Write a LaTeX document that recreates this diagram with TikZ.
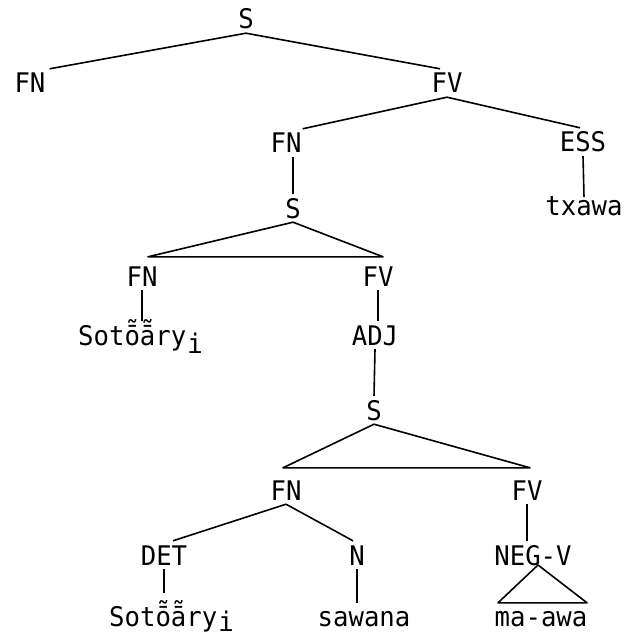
\documentclass[tikz,border=0pt]{standalone}
\usepackage{fontspec}
\newfontfamily\tw[FakeStretch=0.95]{DejaVu Sans Mono}
% vowel with a macron and a tilde stacked above it
\newcommand{\nasbar}[1]{\ooalign{#1\cr\hidewidth\raisebox{5pt}{˜}\hidewidth\cr}}
\newcommand{\sotoary}[1]{Sot\nasbar{ō}\nasbar{ā}ry\kern1pt\raisebox{#1}{i}}
\begin{document}
\begin{tikzpicture}[x=1pt,y=-1pt,
  lbl/.style={anchor=base,inner xsep=1pt,inner ysep=4pt,text height=20pt,text depth=0pt,
    font=\tw\fontsize{27}{29}\selectfont},
  word/.style={lbl,text height=14pt},
  edge/.style={line width=1.6pt,line join=round}]
\useasboundingbox (0,0) rectangle (629,639);

% labels (positions are baselines)
\node[lbl] (S0) at (246,29) {S};
\node[lbl] (FNa) at (30,93) {FN};
\node[lbl] (FVa) at (447,93) {FV};
\node[lbl] (FNb) at (286,153) {FN};
\node[lbl] (ESS) at (583,152) {ESS};
\node[lbl] (Sb) at (293,218) {S};
\node[word] (txawa) at (584,215) {txawa};
\node[lbl] (FNc) at (142,286) {FN};
\node[lbl] (FVc) at (378,286) {FV};
\node[lbl,anchor=base west] (Sot1) at (77,345) {\sotoary{-8pt}};
\node[lbl] (ADJ) at (375,345) {ADJ};
\node[lbl] (Sc) at (374,420) {S};
\node[lbl] (FNd) at (286,500) {FN};
\node[lbl] (FVd) at (527,500) {FV};
\node[lbl] (DET) at (164,565) {DET};
\node[lbl] (N) at (357,565) {N};
\node[lbl] (NEGV) at (533,565) {NEG-V};
\node[lbl,anchor=base west] (Sot2) at (108,626) {\sotoary{-5pt}};
\node[word] (sawana) at (364,626) {sawana};
\node[word] (maawa) at (541,626) {ma-awa};

% helper points
\coordinate (tbL) at ([xshift=6pt,yshift=5pt]FNc.north);
\coordinate (tbR) at ([xshift=5pt,yshift=5pt]FVc.north);
\coordinate (tcL) at ([xshift=-3pt,yshift=8pt]FNd.north);
\coordinate (tcR) at ([xshift=3pt,yshift=8pt]FVd.north);
\coordinate (tnA) at ([xshift=5pt]NEGV.base);
\coordinate (tnL) at ([xshift=-43pt,yshift=5pt]maawa.north);
\coordinate (tnR) at ([xshift=46pt,yshift=5pt]maawa.north);
\coordinate (s2top) at ([yshift=9pt]Sot2.north);
\coordinate (sawtop) at ([yshift=5pt]sawana.north);

% branches
\draw[edge] (S0.south) -- ([xshift=3pt]FNa.north east);
\draw[edge] (S0.south) -- ([xshift=-7pt]FVa.north);
\draw[edge] (FVa.south) -- (FNb.north east);
\draw[edge] (FVa.south) -- ([xshift=-3pt]ESS.north);
\draw[edge] (ESS.south) -- (txawa.north);
\draw[edge] (Sb.north) -- (Sb.north |- FNb.south);
\draw[edge] (Sb.south) -- (tbL) -- (tbR) -- cycle;
\draw[edge] (FNc.south) -- (FNc.south |- Sot1.north);
\draw[edge] (FVc.south) -- (FVc.south |- ADJ.north);
\draw[edge] (ADJ.south) -- (Sc.north);
\draw[edge] (Sc.south) -- (tcL) -- (tcR) -- cycle;
\draw[edge] (FNd.south) -- ([xshift=9pt]DET.north);
\draw[edge] (FNd.south) -- ([xshift=-4pt]N.north);
\draw[edge] (FVd.south) -- (FVd.south |- NEGV.north);
\draw[edge] (DET.south) -- (DET.south |- s2top);
\draw[edge] (N.south) -- (N.south |- sawtop);
\draw[edge] (tnA) -- (tnL) -- (tnR) -- cycle;
\end{tikzpicture}
\end{document}
